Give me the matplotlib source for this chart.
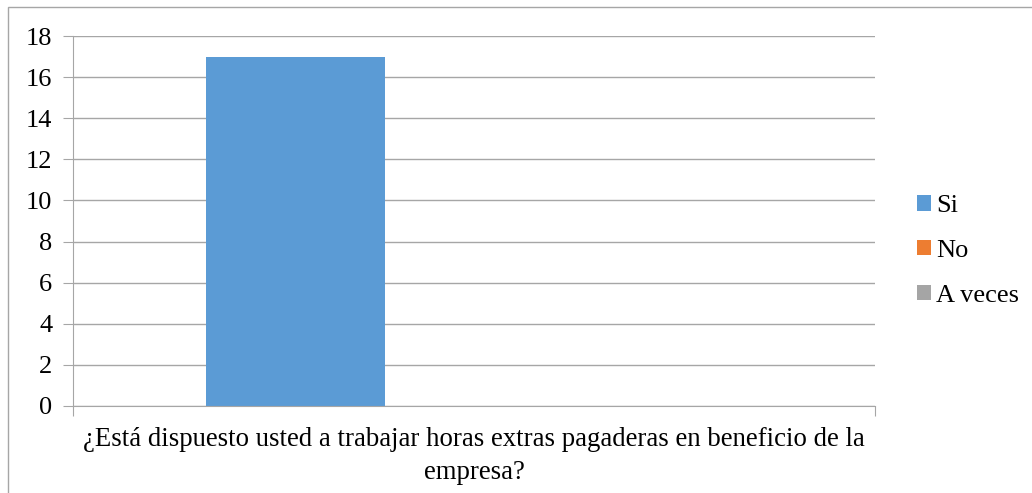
import numpy as np
import matplotlib.pyplot as plt
from matplotlib.patches import Rectangle

plt.rcParams['font.family'] = 'serif'
plt.rcParams['font.serif'] = ['Liberation Serif', 'Times New Roman', 'DejaVu Serif']

# Data
question = '¿Está dispuesto usted a trabajar horas extras pagaderas en beneficio de la\nempresa?'
series = ['Si', 'No', 'A veces']
counts = [17, 0, 0]
colors = ['#5B9BD5', '#ED7D31', '#A5A5A5']

fig = plt.figure(figsize=(10.32, 4.93), dpi=100)
ax = fig.add_axes([73 / 1032, 1 - 406 / 493, 802 / 1032, 370 / 493])

# outer chart border
fig.patches.append(Rectangle((8 / 1032, -0.05), 1.1, 1 - 7 / 493 + 0.05,
                             transform=fig.transFigure, fill=False,
                             edgecolor='#A6A6A6', linewidth=1))

bar_width = 0.2225
offsets = (np.arange(len(series)) - 1) * bar_width
for off, val, lab, col in zip(offsets, counts, series, colors):
    ax.bar(off, val, bar_width, color=col, label=lab, zorder=3)

ax.set_xlim(-0.5, 0.5)
ax.set_ylim(0, 18)
ax.set_yticks(np.arange(0, 19, 2))
ax.tick_params(axis='y', labelsize=19, length=7, color='#A6A6A6', pad=8)
ax.set_xticks([-0.5, 0.5])
ax.set_xticklabels(['', ''])
ax.tick_params(axis='x', length=7, color='#A6A6A6')
ax.text(0.5, -0.058, question, transform=ax.transAxes, ha='center', va='top',
        fontsize=19.3, linespacing=1.42)

ax.grid(axis='y', color='#A6A6A6', linewidth=1, zorder=0)
for s in ['top', 'right']:
    ax.spines[s].set_visible(False)
for s in ['left', 'bottom']:
    ax.spines[s].set_color('#A6A6A6')
    ax.spines[s].set_zorder(4)

leg = fig.legend(loc='center left', bbox_to_anchor=(893 / 1032, 1 - 251 / 493),
                 frameon=False, fontsize=19, handlelength=0.53, handleheight=0.53,
                 handletextpad=0.19, labelspacing=0.86)

plt.savefig('out.png', dpi=100)
